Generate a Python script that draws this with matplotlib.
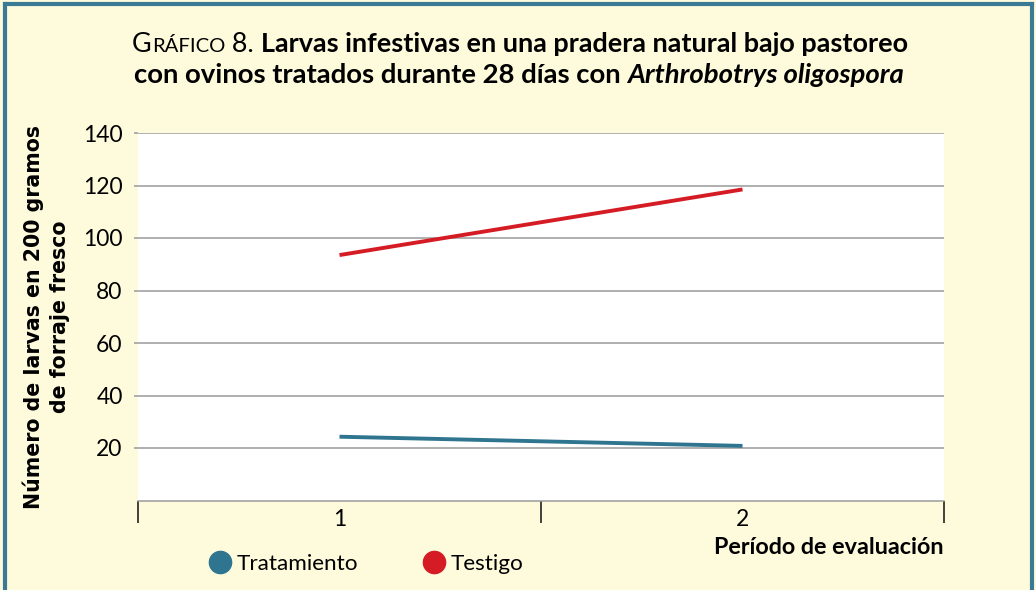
import matplotlib
matplotlib.use("Agg")
import matplotlib.pyplot as plt
from matplotlib.lines import Line2D

# datos
periodos = [1, 2]
periodo_labels = ["1", "2"]
tratamiento = [24.3, 20.8]
testigo = [93.5, 118.5]
series_names = ["Tratamiento", "Testigo"]
y_ticks = [20, 40, 60, 80, 100, 120, 140]

BG = "#fefadc"
TEAL = "#3a7a94"
BLUE = "#2f7590"
RED = "#d51c24"
GRID = "#9a9a9a"
FONT = "Lato"

plt.rcParams["font.family"] = [FONT, "DejaVu Sans"]

W, H = 1036, 590
fig = plt.figure(figsize=(W / 100, H / 100), dpi=100, facecolor=BG)

# marco
for xs, ys in [((5, 5), (0, 586)), ((5, 1032), (586, 586)), ((1032, 1032), (586, 0))]:
    fig.add_artist(Line2D([x / W for x in xs], [y / H for y in ys], color=TEAL, lw=3,
                          transform=fig.transFigure, solid_capstyle="projecting"))

ax = fig.add_axes([138 / W, 1 - 500.5 / H, (944 - 138) / W, (500.5 - 133) / H])
ax.set_facecolor("white")

ax.plot(periodos, tratamiento, color=BLUE, lw=2.8, solid_capstyle="butt")
ax.plot(periodos, testigo, color=RED, lw=2.8, solid_capstyle="butt")

ax.set_xlim(0.5, 2.5)
ax.set_ylim(0, 140)
ax.set_yticks(y_ticks)
ax.set_yticklabels([str(v) for v in y_ticks])
ax.yaxis.grid(True, color=GRID, lw=1.1)
ax.set_axisbelow(True)
ax.tick_params(axis="y", length=3, color=GRID, width=1.1, labelsize=16.5, pad=8)

ax.set_xticks([0.5, 1.5, 2.5])
ax.set_xticklabels([])
ax.set_xticks(periodos, minor=True)
ax.set_xticklabels(periodo_labels, minor=True)
ax.tick_params(axis="x", which="major", length=16, width=1.2, color="#222222", direction="out")
ax.tick_params(axis="x", which="minor", length=0, labelsize=16.5, pad=6)

for s in ["top", "right", "left"]:
    ax.spines[s].set_visible(False)
ax.spines["bottom"].set_color(GRID)
ax.spines["bottom"].set_linewidth(1.1)

# titulo con versalitas
renderer = fig.canvas.get_renderer()


def rich_line(pieces, y_px, cx_px, target_w):
    base = 16.0
    texts = []
    for txt, rel, weight, style in pieces:
        t = fig.text(0, 1 - y_px / H, txt, fontsize=base * rel, fontweight=weight,
                     fontstyle=style, va="baseline", ha="left")
        texts.append((t, rel))
    widths = [t.get_window_extent(renderer).width for t, _ in texts]
    scale = target_w / sum(widths)
    for t, rel in texts:
        t.set_fontsize(base * rel * scale)
    widths = [t.get_window_extent(renderer).width for t, _ in texts]
    x = cx_px - sum(widths) / 2
    for (t, _), w in zip(texts, widths):
        t.set_x(x / W)
        x += w


rich_line([("G", 1.0, "normal", "normal"),
           ("RÁFICO", 0.75, "normal", "normal"),
           (" 8. ", 1.0, "normal", "normal"),
           ("Larvas infestivas en una pradera natural bajo pastoreo", 1.0, "bold", "normal")],
          52, 520, 777)
rich_line([("con ovinos tratados durante 28 días con ", 1.0, "bold", "normal"),
           ("Arthrobotrys oligospora", 1.0, "bold", "italic")],
          83, 519, 772)

fig.text(46 / W, 1 - 317 / H, "Número de larvas en 200 gramos\nde forraje fresco",
         rotation=90, ha="center", va="center", multialignment="center",
         fontsize=14.8, fontweight="bold", linespacing=1.35, family="DejaVu Sans")

fig.text(944 / W, 1 - 548 / H, "Período de evaluación", ha="right", va="center",
         fontsize=16.8, fontweight="bold")

handles = [Line2D([], [], ls="none", marker="o", markersize=16, color=c) for c in (BLUE, RED)]
fig.legend(handles, series_names, loc="center left", bbox_to_anchor=(209 / W, 1 - 564 / H),
           ncol=2, frameon=False, fontsize=16.2, handletextpad=0.21, columnspacing=2.9,
           handlelength=1.0, borderaxespad=0, borderpad=0)

fig.savefig("out.png", dpi=100, facecolor=BG)
